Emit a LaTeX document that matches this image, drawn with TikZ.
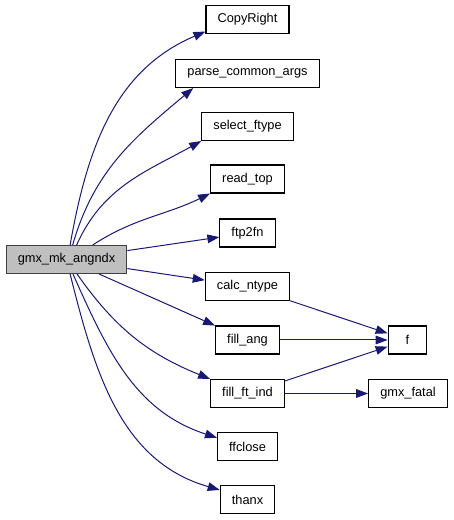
\documentclass[tikz,border=0pt]{standalone}
\usepackage{fontspec}
\setmainfont{Liberation Sans}
\usetikzlibrary{arrows.meta}
\definecolor{edgeblue}{HTML}{191970}
\begin{document}
\begin{tikzpicture}[x=0.75pt, y=0.75pt,
        fn/.style={draw=black, fill=white, line width=0.8pt, font=\fontsize{9.6}{11}\selectfont,
            inner xsep=8.7pt, minimum height=21pt, minimum width=29pt},
        root/.style={fn, fill=black!25, draw=black!75},
        call/.style={edgeblue, line width=0.75pt, -{Triangle[length=9pt, width=6.5pt]}}]
        \useasboundingbox (0,0) rectangle (453,520);
        \node[root] (mk) at (66.5,260.5) {gmx\_mk\_angndx};
        \node[fn] (copyright) at (247.5,500.5) {CopyRight};
        \node[fn] (parse) at (247.5,446.5) {parse\_common\_args};
        \node[fn] (select) at (247.5,393.5) {select\_ftype};
        \node[fn] (readtop) at (247.5,341) {read\_top};
        \node[fn] (ftp) at (247.5,287) {ftp2fn};
        \node[fn] (calc) at (247.5,233.5) {calc\_ntype};
        \node[fn] (fillang) at (247.5,180) {fill\_ang};
        \node[fn] (fillft) at (247.5,126.5) {fill\_ft\_ind};
        \node[fn] (ffclose) at (247.5,73.5) {ffclose};
        \node[fn] (thanx) at (247.5,20.5) {thanx};
        \node[fn] (f) at (407.5,180) {f};
        \node[fn] (fatal) at (408,126.5) {gmx\_fatal};
        \draw[call] (mk.76) to[out=80, in=203] (copyright.196);
        \draw[call] (mk.67) to[out=74, in=220] (parse.195);
        \draw[call] (mk.55) to[out=66, in=209] (select.south west);
        \draw[call] (mk.29) to[out=33, in=206] (readtop.south west);
        \draw[call] (mk) -- (ftp);
        \draw[call] (mk) -- (calc);
        \draw[call] (mk) -- (fillang);
        \draw[call] (mk.-54) to[out=-55, in=158] (fillft.north west);
        \draw[call] (mk.-66) to[out=-66, in=162] (ffclose.164);
        \draw[call] (mk.-76) to[out=-76, in=164] (thanx.161);
        \draw[call] (calc) -- (f);
        \draw[call] (fillang) -- (f);
        \draw[call] (fillft) -- (f);
        \draw[call] (fillft) -- (fatal);
\end{tikzpicture}
\end{document}
